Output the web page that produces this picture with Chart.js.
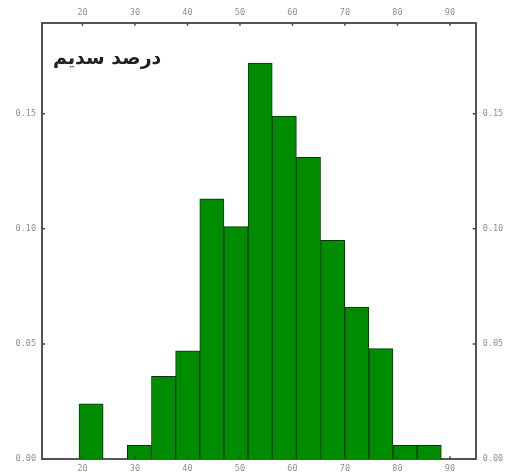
<!DOCTYPE html>
<html>
<head>
<meta charset="utf-8">
<script src="https://cdn.jsdelivr.net/npm/chart.js@4"></script>
<style>
  body { margin: 0; background: #fff; }
</style>
</head>
<body>
<canvas id="chart" width="506" height="472"></canvas>
<script>
// histogram bins (width 4.6) and their densities
const binCenters = [21.65, 26.25, 30.85, 35.45, 40.05, 44.65, 49.25, 53.85, 58.45, 63.05, 67.65, 72.25, 76.85, 81.45, 86.05];
const density = [0.024, 0, 0.006, 0.036, 0.047, 0.113, 0.101, 0.172, 0.149, 0.131, 0.095, 0.066, 0.048, 0.006, 0.006];
const xTicks = [20, 30, 40, 50, 60, 70, 80, 90];
const yTicks = [0, 0.05, 0.10, 0.15];
const titleText = 'درصد سدیم';

const tickFont = { family: 'DejaVu Sans Mono', size: 8.5 };
const tickColor = '#8f8f8f';
const frame = { color: '#555', width: 2 };

const setTicks = list => scale => { scale.ticks = list.map(v => ({ value: v })); };

const innerTicks = {
    id: 'innerTicks',
    afterDraw(chart) {
        const { ctx, chartArea: a, scales } = chart;
        ctx.save();
        ctx.strokeStyle = '#444';
        ctx.lineWidth = 1.5;
        ctx.beginPath();
        xTicks.forEach(v => {
            const px = scales.x.getPixelForValue(v);
            ctx.moveTo(px, a.bottom); ctx.lineTo(px, a.bottom - 3);
            ctx.moveTo(px, a.top); ctx.lineTo(px, a.top + 3);
        });
        yTicks.forEach(v => {
            const py = scales.y.getPixelForValue(v);
            ctx.moveTo(a.left, py); ctx.lineTo(a.left + 3, py);
            ctx.moveTo(a.right, py); ctx.lineTo(a.right - 3, py);
        });
        ctx.stroke();

        // title sits inside the plot, top-left
        ctx.fillStyle = '#222';
        ctx.font = 'bold 19px "DejaVu Sans"';
        ctx.textBaseline = 'middle';
        ctx.textAlign = 'left';
        ctx.fillText(titleText, a.left + 11, a.top + 36);
        ctx.restore();
    }
};

const ctx = document.getElementById('chart').getContext('2d');

new Chart(ctx, {
    type: 'bar',
    data: {
        datasets: [{
            data: binCenters.map((c, i) => ({ x: c, y: density[i] })),
            backgroundColor: '#008c00',
            borderColor: '#0a350a',
            borderWidth: 1,
            barPercentage: 1,
            categoryPercentage: 1
        }]
    },
    options: {
        responsive: false,
        animation: false,
        layout: { padding: 0 },
        plugins: {
            legend: { display: false },
            tooltip: { enabled: false }
        },
        scales: {
            x: {
                type: 'linear',
                position: 'bottom',
                offset: false,
                min: 12.3,
                max: 94.9,
                afterBuildTicks: setTicks(xTicks),
                afterFit: s => { s.height = 12.8; },
                grid: { display: false, drawTicks: false },
                border: frame,
                ticks: { font: tickFont, color: tickColor, padding: 4, maxRotation: 0 }
            },
            x2: {
                type: 'linear',
                position: 'top',
                offset: false,
                min: 12.3,
                max: 94.9,
                afterBuildTicks: setTicks(xTicks),
                afterFit: s => { s.height = 22.7; },
                grid: { display: false, drawTicks: false },
                border: frame,
                ticks: { font: tickFont, color: tickColor, padding: 5, maxRotation: 0 }
            },
            y: {
                type: 'linear',
                position: 'left',
                min: 0,
                max: 0.1895,
                afterBuildTicks: setTicks(yTicks),
                afterFit: s => { s.width = 42; },
                grid: { display: false, drawTicks: false },
                border: frame,
                ticks: { font: tickFont, color: tickColor, padding: 6, callback: v => v.toFixed(2) }
            },
            y2: {
                type: 'linear',
                position: 'right',
                min: 0,
                max: 0.1895,
                afterBuildTicks: setTicks(yTicks),
                afterFit: s => { s.width = 30.3; },
                grid: { display: false, drawTicks: false },
                border: frame,
                ticks: { font: tickFont, color: tickColor, padding: 7, callback: v => v.toFixed(2) }
            }
        }
    },
    plugins: [innerTicks]
});
</script>
</body>
</html>
